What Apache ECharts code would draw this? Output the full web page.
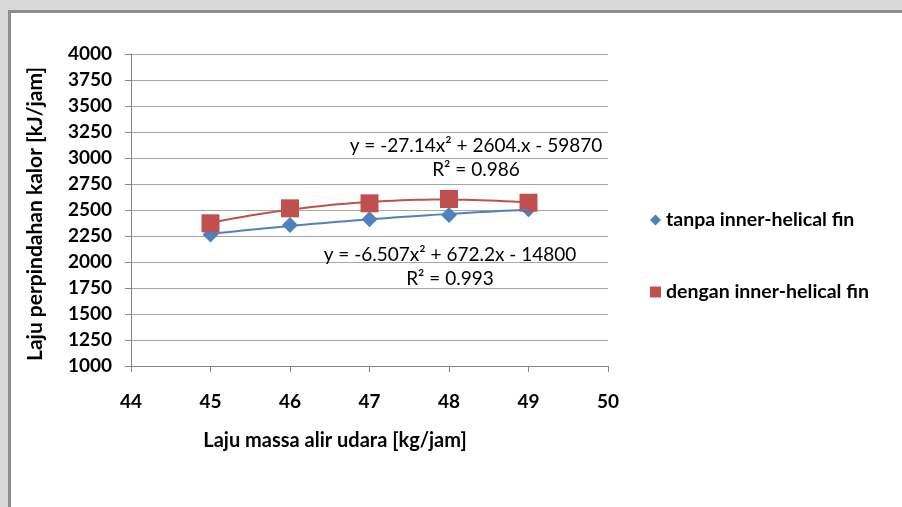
<!DOCTYPE html>
<html>
<head>
<meta charset="utf-8">
<script src="https://cdn.jsdelivr.net/npm/echarts@6/dist/echarts.min.js"></script>
<style>
  html, body { margin: 0; padding: 0; background: #d9d9d9; }
  #wrap { position: relative; width: 902px; height: 507px; overflow: hidden; background: #d9d9d9; }
  #frame { position: absolute; left: 8px; top: 10px; width: 1000px; height: 600px; border: 3px solid #8c8c8c; background: #ffffff; }
  #chart { position: absolute; left: 0; top: 0; width: 902px; height: 507px; }
</style>
</head>
<body>
<div id="wrap">
  <div id="frame"></div>
  <div id="chart"></div>
</div>
<script>
// ---- data ----
var xValues = [45, 46, 47, 48, 49];
var tanpaValues = [2265, 2356, 2411, 2452, 2508];
var denganValues = [2372, 2516, 2564, 2606, 2570];
var seriesNames = ['tanpa inner-helical fin', 'dengan inner-helical fin'];
var equationTexts = ['y = -27.14x\u00b2 + 2604.x - 59870', 'R\u00b2 = 0.986', 'y = -6.507x\u00b2 + 672.2x - 14800', 'R\u00b2 = 0.993'];
var xAxisTitle = 'Laju massa alir udara [kg/jam]';
var yAxisTitle = 'Laju perpindahan kalor [kJ/jam]';

// quadratic least squares fit (like the spreadsheet trendline)
function quadFit(xs, ys) {
  var n = xs.length, s = [0,0,0,0,0], t = [0,0,0];
  for (var i = 0; i < n; i++) {
    var x = xs[i], y = ys[i];
    for (var k = 0; k < 5; k++) s[k] += Math.pow(x, k);
    for (var k2 = 0; k2 < 3; k2++) t[k2] += y * Math.pow(x, k2);
  }
  var A = [[s[0], s[1], s[2], t[0]], [s[1], s[2], s[3], t[1]], [s[2], s[3], s[4], t[2]]];
  for (var c = 0; c < 3; c++) {
    var p = c;
    for (var r = c + 1; r < 3; r++) if (Math.abs(A[r][c]) > Math.abs(A[p][c])) p = r;
    var tmp = A[c]; A[c] = A[p]; A[p] = tmp;
    for (var r2 = 0; r2 < 3; r2++) {
      if (r2 === c) continue;
      var f = A[r2][c] / A[c][c];
      for (var j = c; j < 4; j++) A[r2][j] -= f * A[c][j];
    }
  }
  return [A[0][3] / A[0][0], A[1][3] / A[1][1], A[2][3] / A[2][2]];
}
function trend(xs, ys) {
  var co = quadFit(xs, ys), out = [];
  var x0 = xs[0], x1 = xs[xs.length - 1], steps = 40;
  for (var i = 0; i <= steps; i++) {
    var x = x0 + (x1 - x0) * i / steps;
    out.push([x, co[0] + co[1] * x + co[2] * x * x]);
  }
  return out;
}
function pairs(xs, ys) { return xs.map(function (x, i) { return [x, ys[i]]; }); }

var BLUE = '#4f81bd', RED = '#c0504d';
var FONT = 'Lato';

function txt(x, y, s, font, rot) {
  return { type: 'text', x: x, y: y, rotation: rot || 0, z: 10,
    style: { text: s, fill: '#000', font: font, textAlign: 'center', textVerticalAlign: 'middle' } };
}

var chart = echarts.init(document.getElementById('chart'), null, { renderer: 'canvas' });
chart.setOption({
  backgroundColor: 'transparent',
  animation: false,
  grid: { left: 131, right: 294, top: 54, bottom: 141 },
  xAxis: {
    type: 'value', min: 44, max: 50, interval: 1,
    axisLine: { lineStyle: { color: '#868686', width: 1 } },
    axisTick: { show: true, length: 6, lineStyle: { color: '#868686' } },
    splitLine: { show: false },
    axisLabel: { margin: 26, color: '#000', fontFamily: FONT, fontWeight: 'bold', fontSize: 19,
      formatter: function (v) { return String(v); } }
  },
  yAxis: {
    type: 'value', min: 1000, max: 4000, interval: 250,
    axisLine: { show: true, lineStyle: { color: '#868686', width: 1 } },
    axisTick: { show: true, length: 6, lineStyle: { color: '#868686' } },
    splitLine: { show: true, lineStyle: { color: '#a6a6a6', width: 1 } },
    axisLabel: { margin: 19, color: '#000', fontFamily: FONT, fontWeight: 'bold', fontSize: 19,
      formatter: function (v) { return String(v); } }
  },
  legend: [
    { orient: 'vertical', left: 645, top: 205, itemWidth: 11, itemHeight: 11,
      data: [{ name: seriesNames[0], icon: 'diamond' }],
      textStyle: { color: '#000', fontFamily: FONT, fontWeight: 'bold', fontSize: 19.5 } },
    { orient: 'vertical', left: 645, top: 277, itemWidth: 11, itemHeight: 11,
      data: [{ name: seriesNames[1], icon: 'rect' }],
      textStyle: { color: '#000', fontFamily: FONT, fontWeight: 'bold', fontSize: 19.5 } }
  ],
  graphic: [
    txt(335, 441, xAxisTitle, 'bold 20px ' + FONT),
    txt(35, 214, yAxisTitle, 'bold 21px ' + FONT, Math.PI / 2),
    txt(476, 146, equationTexts[0], '19px ' + FONT),
    txt(476, 170, equationTexts[1], '19px ' + FONT),
    txt(450, 255, equationTexts[2], '19px ' + FONT),
    txt(450, 279, equationTexts[3], '19px ' + FONT)
  ],
  series: [
    { name: seriesNames[0], type: 'scatter', symbol: 'diamond', symbolSize: 16,
      itemStyle: { color: BLUE, opacity: 1 }, data: pairs(xValues, tanpaValues), z: 2 },
    { name: seriesNames[1], type: 'scatter', symbol: 'rect', symbolSize: 18,
      itemStyle: { color: RED, opacity: 1 }, data: pairs(xValues, denganValues), z: 3 },
    { name: 'trend-tanpa', type: 'line', showSymbol: false, silent: true, z: 4,
      lineStyle: { color: BLUE, width: 2 }, itemStyle: { color: BLUE }, data: trend(xValues, tanpaValues) },
    { name: 'trend-dengan', type: 'line', showSymbol: false, silent: true, z: 4,
      lineStyle: { color: RED, width: 2 }, itemStyle: { color: RED }, data: trend(xValues, denganValues) }
  ]
});
</script>
</body>
</html>
